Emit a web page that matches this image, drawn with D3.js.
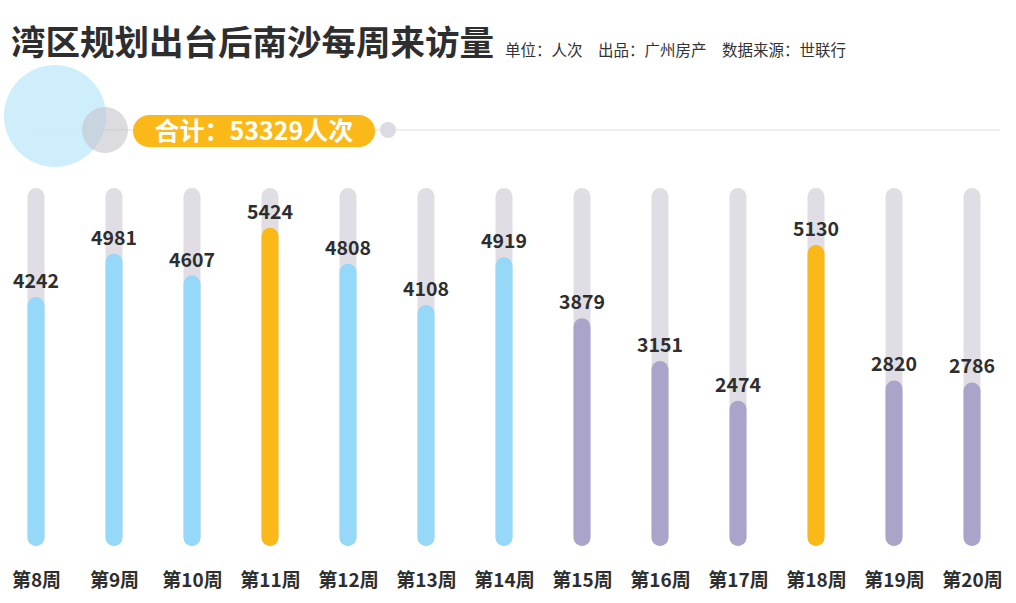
<!DOCTYPE html>
<html><head><meta charset="utf-8">
<script src="https://cdn.jsdelivr.net/npm/d3@7"></script>
<style>
html,body{margin:0;padding:0;background:#fff;}
svg{display:block;font-family:"Noto Sans CJK SC","Noto Sans",sans-serif;}
</style></head><body>
<svg id="c" width="1016" height="603"></svg>
<script>
const weeks = ["第8周","第9周","第10周","第11周","第12周","第13周","第14周","第15周","第16周","第17周","第18周","第19周","第20周"];
const visitors = [4242,4981,4607,5424,4808,4108,4919,3879,3151,2474,5130,2820,2786];
const period = ["前","前","前","前","前","前","前","后","后","后","后","后","后"];
const highlight = ["第11周","第18周"];
const yTicks = [0, 6100];

const svg = d3.select("#c");
const x = d3.scalePoint().domain(weeks).range([36, 972]);
const y = d3.scaleLinear().domain([yTicks[0], yTicks[1]]).range([546, 188]);
const bw = 17;
const color = (w, i) => highlight.includes(w) ? "#fbb919" : (period[i] === "前" ? "#95d8f8" : "#aaa4ca");

// title
svg.append("text").attr("x", 11).attr("y", 55).attr("font-size", 34.5).attr("font-weight", 700)
  .attr("fill", "#2e2e2e").text("湾区规划出台后南沙每周来访量");
svg.append("text").attr("x", 505).attr("y", 56).attr("font-size", 15.5).attr("fill", "#333")
  .text("单位：人次　出品：广州房产　数据来源：世联行");

// decoration
svg.append("line").attr("x1", 32).attr("x2", 1000).attr("y1", 130).attr("y2", 130)
  .attr("stroke", "#dcdcdc").attr("stroke-width", 1);
svg.append("circle").attr("cx", 55).attr("cy", 116).attr("r", 51).attr("fill", "#c9ecfc").attr("opacity", 0.9);
svg.append("circle").attr("cx", 105).attr("cy", 130).attr("r", 23).attr("fill", "#c4c3cc").attr("opacity", 0.6);
svg.append("rect").attr("x", 133).attr("y", 115).attr("width", 242).attr("height", 32).attr("rx", 16)
  .attr("fill", "#fbb919");
svg.append("text").attr("x", 254).attr("y", 140).attr("text-anchor", "middle").attr("font-size", 25)
  .attr("font-weight", 700).attr("fill", "#fff").text("合计：" + d3.sum(visitors) + "人次");
svg.append("circle").attr("cx", 388).attr("cy", 130).attr("r", 8).attr("fill", "#dcdbe3");

// bars
const g = svg.append("g");
g.selectAll("rect.bg").data(weeks).join("rect").attr("class", "bg")
  .attr("x", d => x(d) - bw / 2).attr("y", y(yTicks[1])).attr("width", bw)
  .attr("height", y(0) - y(yTicks[1])).attr("rx", bw / 2).attr("fill", "#e0dee4");
g.selectAll("rect.val").data(weeks).join("rect").attr("class", "val")
  .attr("x", d => x(d) - bw / 2).attr("y", (d, i) => y(visitors[i])).attr("width", bw)
  .attr("height", (d, i) => y(0) - y(visitors[i])).attr("rx", bw / 2)
  .attr("fill", (d, i) => color(d, i));
g.selectAll("text.v").data(weeks).join("text").attr("class", "v")
  .attr("x", d => x(d)).attr("y", (d, i) => y(visitors[i]) - 9)
  .attr("text-anchor", "middle").attr("font-size", 19.5).attr("font-weight", 700).attr("fill", "#2e2e2e")
  .text((d, i) => visitors[i]);

// x axis labels
const ax = svg.append("g").attr("transform", "translate(0,571)")
  .call(d3.axisBottom(x).tickSize(0).tickPadding(0));
ax.select(".domain").remove();
ax.selectAll("text").attr("font-size", 19).attr("font-weight", 700).attr("fill", "#2e2e2e")
  .attr("font-family", "Noto Sans CJK SC").attr("dy", "0.85em");
</script>
</body></html>
